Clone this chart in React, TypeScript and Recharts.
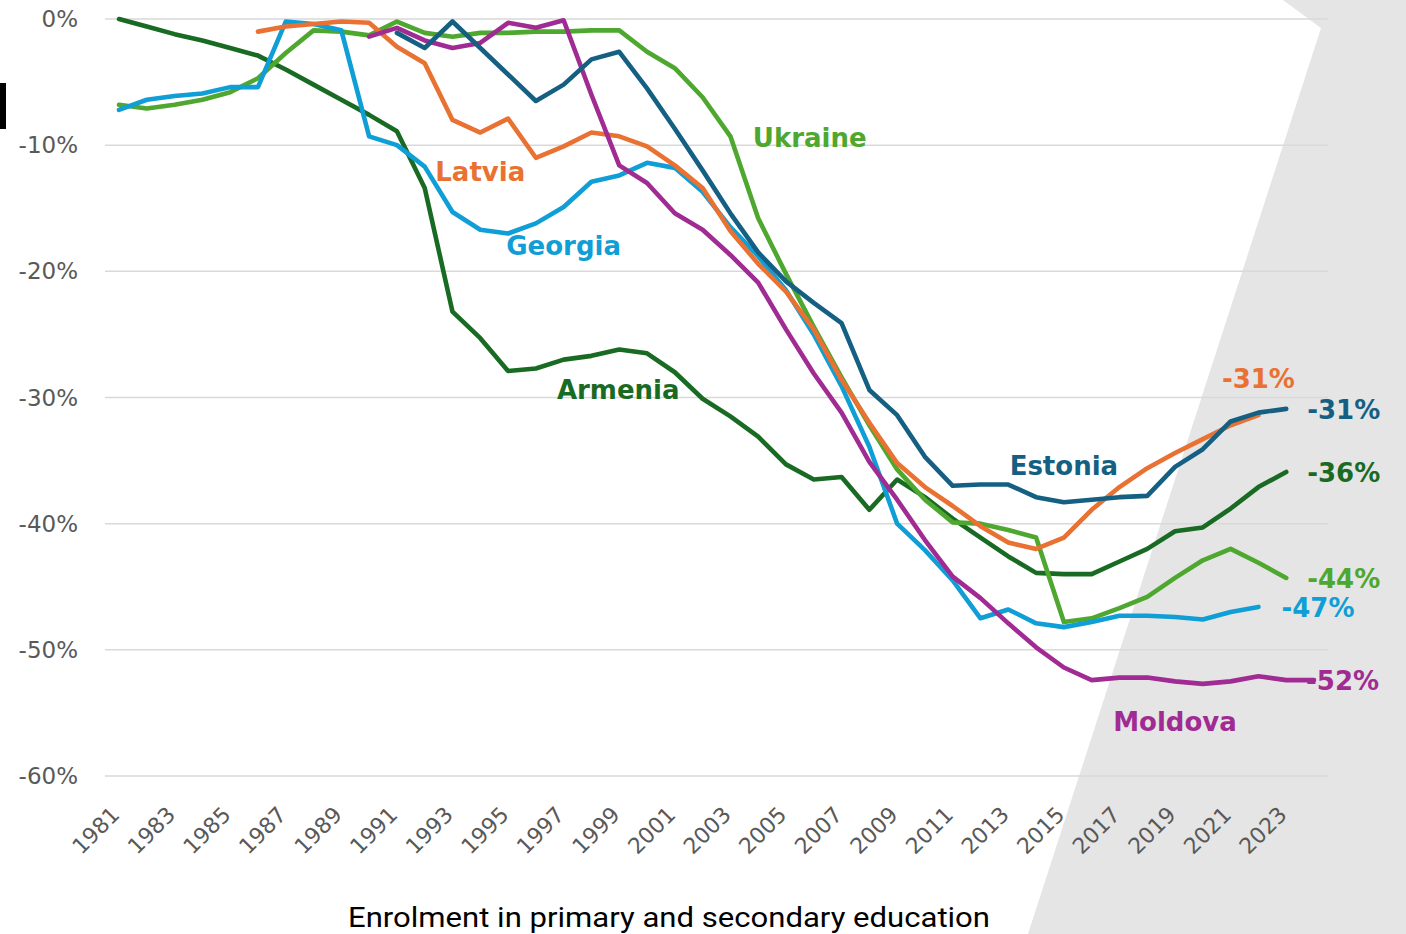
import React from 'react';
import { LineChart, Line, XAxis, YAxis, CartesianGrid, ReferenceDot } from 'recharts';

const years = [
  1981, 1982, 1983, 1984, 1985, 1986, 1987, 1988, 1989, 1990,
  1991, 1992, 1993, 1994, 1995, 1996, 1997, 1998, 1999, 2000,
  2001, 2002, 2003, 2004, 2005, 2006, 2007, 2008, 2009, 2010,
  2011, 2012, 2013, 2014, 2015, 2016, 2017, 2018, 2019, 2020,
  2021, 2022, 2023, 2024,
];

const yTicks = [0, -10, -20, -30, -40, -50, -60];

// % change in enrolment, one value per year (null = no data)
const armenia = [
  0, -0.6, -1.2, -1.7, -2.3, -2.9, -4.0, -5.2, -6.4, -7.6,
  -8.9, -13.4, -23.2, -25.3, -27.9, -27.7, -27.0, -26.7, -26.2, -26.5,
  -28.0, -30.1, -31.5, -33.1, -35.3, -36.5, -36.3, -38.9, -36.5, -37.9,
  -39.6, -41.1, -42.6, -43.9, -44.0, -44.0, -43.0, -42.0, -40.6, -40.3,
  -38.8, -37.1, -35.9, null,
];
const estonia = [
  null, null, null, null, null, null, null, null, null, null,
  -1.1, -2.3, -0.2, -2.3, -4.4, -6.5, -5.2, -3.2, -2.6, -5.5,
  -8.7, -12.0, -15.4, -18.5, -20.8, -22.5, -24.1, -29.4, -31.4, -34.7,
  -37.0, -36.9, -36.9, -37.9, -38.3, -38.1, -37.9, -37.8, -35.5, -34.1,
  -31.9, -31.2, -30.9, null,
];
const latvia = [
  null, null, null, null, null, -1.0, -0.6, -0.4, -0.2, -0.3,
  -2.2, -3.5, -8.0, -9.0, -7.9, -11.0, -10.1, -9.0, -9.3, -10.1,
  -11.6, -13.4, -16.8, -19.4, -21.6, -24.6, -28.6, -32.0, -35.2, -37.1,
  -38.6, -40.2, -41.5, -42.0, -41.1, -38.9, -37.1, -35.6, -34.4, -33.3,
  -32.2, -31.4, null, null,
];
const georgia = [
  -7.2, -6.4, -6.1, -5.9, -5.4, -5.4, -0.2, -0.4, -0.9, -9.3,
  -10.0, -11.7, -15.3, -16.7, -17.0, -16.2, -14.9, -12.9, -12.4, -11.4,
  -11.8, -13.7, -16.5, -18.8, -21.5, -25.0, -29.1, -33.9, -40.0, -42.1,
  -44.5, -47.5, -46.8, -47.9, -48.2, -47.8, -47.3, -47.3, -47.4, -47.6,
  -47.0, -46.6, null, null,
];
const ukraine = [
  -6.8, -7.1, -6.8, -6.4, -5.8, -4.7, -2.7, -0.9, -1.0, -1.3,
  -0.2, -1.1, -1.4, -1.1, -1.1, -1.0, -1.0, -0.9, -0.9, -2.6,
  -3.9, -6.2, -9.3, -15.8, -20.2, -24.4, -28.4, -32.2, -35.7, -38.1,
  -39.9, -40.0, -40.5, -41.1, -47.8, -47.5, -46.7, -45.8, -44.3, -42.9,
  -42.0, -43.1, -44.3, null,
];
const moldova = [
  null, null, null, null, null, null, null, null, null, -1.4,
  -0.7, -1.7, -2.3, -1.9, -0.3, -0.7, -0.1, -6.0, -11.6, -13.0,
  -15.4, -16.7, -18.7, -20.9, -24.6, -28.1, -31.2, -35.1, -38.1, -41.3,
  -44.2, -45.9, -47.9, -49.8, -51.4, -52.4, -52.2, -52.2, -52.5, -52.7,
  -52.5, -52.1, -52.4, -52.4,
];

const seriesList = [
  { key: 'Armenia', values: armenia, color: '#196B24', endDx: 21, endDy: 1, endAnchor: 'start' },
  { key: 'Ukraine', values: ukraine, color: '#4EA72E', endDx: 21, endDy: 1, endAnchor: 'start' },
  { key: 'Georgia', values: georgia, color: '#0F9ED5', endDx: 23, endDy: 1, endAnchor: 'start' },
  { key: 'Latvia', values: latvia, color: '#E97132', endDx: 0, endDy: -36, endAnchor: 'middle' },
  { key: 'Moldova', values: moldova, color: '#A02B93', endDx: -8, endDy: 1, endAnchor: 'start' },
  { key: 'Estonia', values: estonia, color: '#156082', endDx: 21, endDy: 1, endAnchor: 'start' },
];

// name tags placed at a year / value inside the plot
const nameTags = [
  { key: 'Latvia', year: 1994, value: -12.1, dx: 0 },
  { key: 'Georgia', year: 1997, value: -18.0, dx: 0 },
  { key: 'Ukraine', year: 2006, value: -9.4, dx: -4 },
  { key: 'Armenia', year: 1999, value: -29.4, dx: -1 },
  { key: 'Estonia', year: 2015, value: -35.4, dx: 0 },
  { key: 'Moldova', year: 2019, value: -55.7, dx: 0 },
];

const data = years.map((year, i) => {
  const row: any = { year };
  seriesList.forEach((s) => {
    row[s.key] = s.values[i];
  });
  return row;
});

const colorOf = (key: string) => seriesList.find((s) => s.key === key)!.color;

const LABEL_FONT = '"DejaVu Sans", sans-serif';

const YearTick = ({ x, y, payload }: any) => {
  const tx = x + 2;
  const ty = y + 40;
  return (
    <text
      x={tx}
      y={ty}
      transform={`rotate(-45 ${tx} ${ty})`}
      textAnchor="end"
      fill="#595959"
      fontSize={22}
      fontFamily={LABEL_FONT}
    >
      {payload.value}
    </text>
  );
};

const tagShape = (text: string, color: string, dx: number, dy: number, anchor: string) => (p: any) => (
  <text
    x={p.cx + dx}
    y={p.cy + dy}
    textAnchor={anchor as any}
    dominantBaseline="central"
    fill={color}
    fontSize={26}
    fontWeight="bold"
    fontFamily={LABEL_FONT}
  >
    {text}
  </text>
);

const lastPoint = (values: (number | null)[]) => {
  let i = values.length - 1;
  while (i >= 0 && values[i] == null) i--;
  return { year: years[i], value: values[i] as number };
};

const App: React.FC = () => {
  return (
    <div style={{ position: 'absolute', left: 0, top: 0, width: 1406, height: 934, background: '#fff', overflow: 'hidden' }}>
      <svg width={1406} height={934} style={{ position: 'absolute', left: 0, top: 0 }}>
        <polygon points="1283,0 1406,0 1406,934 1028,934 1321,28" fill="#e5e5e5" />
        <rect x={0} y={83} width={6} height={46} fill="#000" />
        <text
          x={348}
          y={927}
          fontSize={28}
          fontFamily="Roboto, sans-serif"
          fill="#000"
          textLength={642}
          lengthAdjust="spacingAndGlyphs"
        >
          Enrolment in primary and secondary education
        </text>
      </svg>
      <div style={{ position: 'absolute', left: 0, top: 0 }}>
        <LineChart width={1406} height={934} data={data} margin={{ top: 19, right: 78, bottom: 98, left: 15 }}>
          <CartesianGrid vertical={false} stroke="#d9d9d9" strokeWidth={1.5} />
          <XAxis
            dataKey="year"
            type="category"
            interval={1}
            axisLine={false}
            tickLine={false}
            tickSize={0}
            tickMargin={0}
            height={60}
            padding={{ left: 14, right: 14 }}
            tick={<YearTick />}
          />
          <YAxis
            type="number"
            domain={[-60, 0]}
            ticks={yTicks}
            tickFormatter={(v: number) => `${v}%`}
            axisLine={false}
            tickLine={false}
            tickSize={0}
            tickMargin={27}
            width={90}
            tick={{ fill: '#595959', fontSize: 23, fontFamily: LABEL_FONT }}
          />
          {seriesList.map((s) => {
            const end = lastPoint(s.values);
            return (
              <ReferenceDot
                key={`end-${s.key}`}
                x={end.year}
                y={end.value}
                r={0}
                fill="none"
                stroke="none"
                shape={tagShape(`${Math.round(end.value)}%`, s.color, s.endDx, s.endDy, s.endAnchor)}
              />
            );
          })}
          {nameTags.map((t) => (
            <ReferenceDot
              key={`tag-${t.key}`}
              x={t.year}
              y={t.value}
              r={0}
              fill="none"
              stroke="none"
              shape={tagShape(t.key, colorOf(t.key), t.dx, 0, 'middle')}
            />
          ))}
          {seriesList.map((s) => (
            <Line
              key={s.key}
              type="linear"
              dataKey={s.key}
              stroke={s.color}
              strokeWidth={4.6}
              strokeLinejoin="round"
              strokeLinecap="round"
              dot={false}
              activeDot={false}
              isAnimationActive={false}
            />
          ))}
        </LineChart>
      </div>
    </div>
  );
};

export default App;
